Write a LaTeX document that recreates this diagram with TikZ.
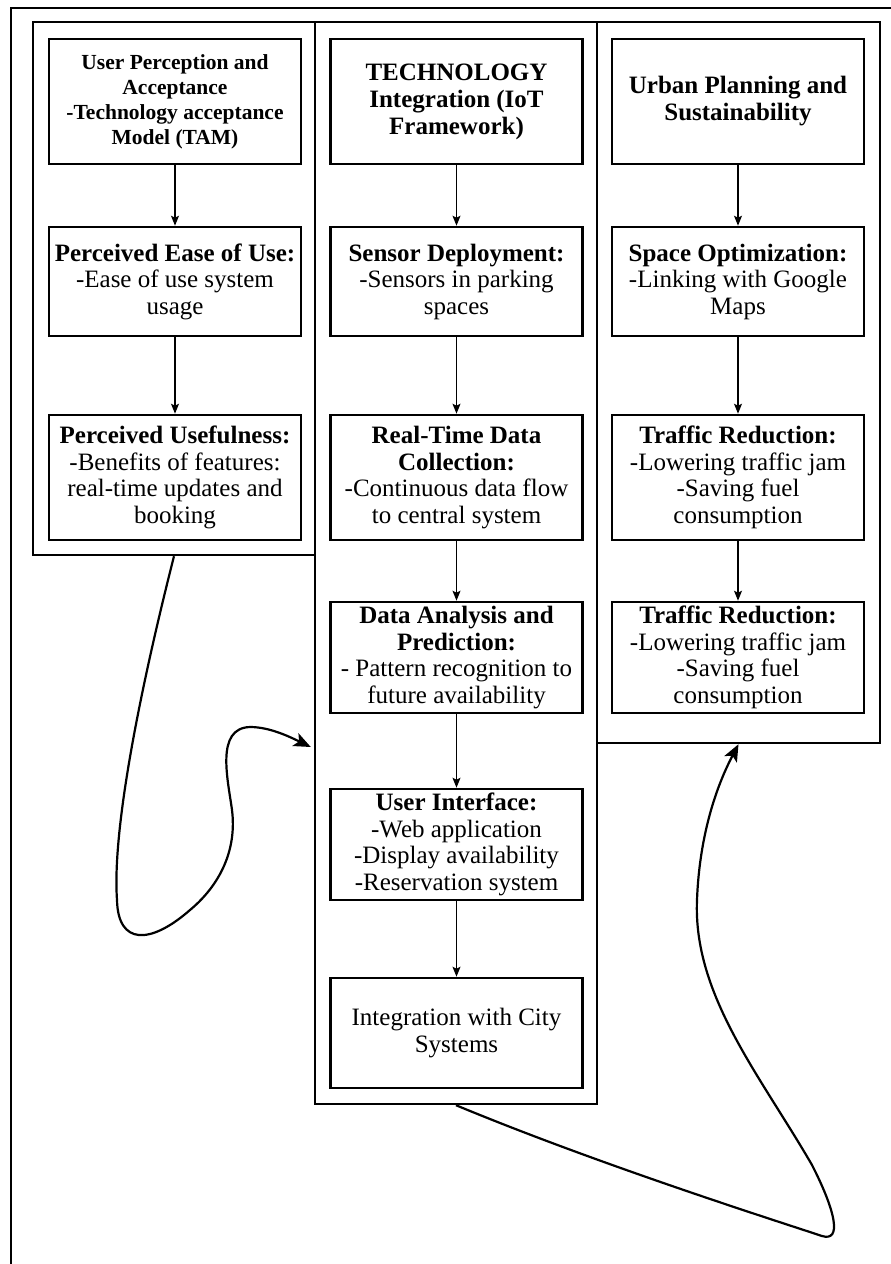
\documentclass[tikz,border=0pt]{standalone}
\usepackage{fontspec}
\setmainfont{Liberation Serif}
\usetikzlibrary{arrows.meta}
\begin{document}
\begin{tikzpicture}[x=1pt,y=-1pt,
  frame/.style={draw=black, line width=2pt},
  container/.style={draw=black, line width=2.4pt, inner sep=0pt},
  box/.style={draw=black, line width=2.6pt, minimum width=252pt, align=center, inner sep=0pt, font=\fontsize{25}{26.5}\selectfont},
  flow/.style={-{Stealth[length=10pt,width=8pt,inset=2pt]}, line width=1.2pt},
  curvy/.style={-{Stealth[length=17pt,width=14pt,inset=4pt]}, line width=2.2pt}]
\useasboundingbox (0,0) rectangle (891,1264);
\fill[white] (0,0) rectangle (891,1264);
% outer frame (extends beyond the picture)
\draw[frame] (11,1275) -- (11,8) -- (900,8);
% column containers
\node[container, minimum width=282pt, minimum height=533pt] (cl) at (174,288.5) {};
\node[container, minimum width=282pt, minimum height=1082pt] (cm) at (456,563) {};
\node[container, minimum width=283pt, minimum height=721pt] (cr) at (738.5,382.5) {};
% left column
\node[box, minimum height=125pt, font=\fontsize{21.5}{25}\selectfont\bfseries] (l1) at (175,101.5) {User Perception and\\Acceptance\\-Technology acceptance\\Model (TAM)};
\node[box, minimum height=109pt] (l2) at (175,281.5) {\textbf{Perceived Ease of Use:}\\-Ease of use system\\usage};
\node[box, minimum height=125pt] (l3) at (175,477.5) {\textbf{Perceived Usefulness:}\\-Benefits of features:\\real-time updates and\\booking};
% middle column
\node[box, minimum height=125pt, font=\fontsize{25}{27}\selectfont\bfseries] (m1) at (456.5,101.5) {TECHNOLOGY\\Integration (IoT\\Framework)};
\node[box, minimum height=109pt] (m2) at (456.5,281.5) {\textbf{Sensor Deployment:}\\-Sensors in parking\\spaces};
\node[box, minimum height=125pt] (m3) at (456.5,477.5) {\textbf{Real-Time Data}\\\textbf{Collection:}\\-Continuous data flow\\to central system};
\node[box, minimum height=111pt] (m4) at (456.5,657.5) {\textbf{Data Analysis and}\\\textbf{Prediction:}\\- Pattern recognition to\\future availability};
\node[box, minimum height=111pt] (m5) at (456.5,844.5) {\textbf{User Interface:}\\-Web application\\-Display availability\\-Reservation system};
\node[box, minimum height=110pt] (m6) at (456.5,1033) {Integration with City\\Systems};
% right column
\node[box, minimum height=125pt, font=\fontsize{25}{27}\selectfont\bfseries] (r1) at (738,101.5) {Urban Planning and\\Sustainability};
\node[box, minimum height=109pt] (r2) at (738,281.5) {\textbf{Space Optimization:}\\-Linking with Google\\Maps};
\node[box, minimum height=125pt] (r3) at (738,477.5) {\textbf{Traffic Reduction:}\\-Lowering traffic jam\\-Saving fuel\\consumption};
\node[box, minimum height=111pt] (r4) at (738,657.5) {\textbf{Traffic Reduction:}\\-Lowering traffic jam\\-Saving fuel\\consumption};
% flow arrows
\draw[flow] (l1) -- (l2);
\draw[flow] (l2) -- (l3);
\draw[flow] (m1) -- (m2);
\draw[flow] (m2) -- (m3);
\draw[flow] (m3) -- (m4);
\draw[flow] (m4) -- (m5);
\draw[flow] (m5) -- (m6);
\draw[flow] (r1) -- (r2);
\draw[flow] (r2) -- (r3);
\draw[flow] (r3) -- (r4);
% curved connectors between columns
\draw[curvy] (cl.south) .. controls (140,690) and (112,830) .. (117,900)
  .. controls (118,945) and (150,945) .. (190,910)
  .. controls (220,885) and (237,850) .. (232,810)
  .. controls (228,780) and (215,728) .. (250,727)
  .. controls (270,727) and (290,737) .. ([yshift=-184pt,xshift=-3pt]cm.west);
\draw[curvy] (cm.south) .. controls (600,1165) and (780,1222) .. (822,1236)
  .. controls (842,1242) and (836,1212) .. (812,1165)
  .. controls (760,1075) and (693,995) .. (697,900)
  .. controls (700,820) and (725,770) .. (cr.south);
\end{tikzpicture}
\end{document}
